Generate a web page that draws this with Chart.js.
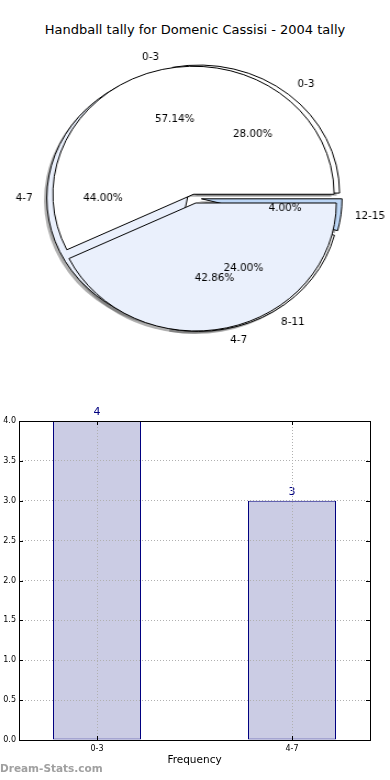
<!DOCTYPE html>
<html>
<head>
<meta charset="utf-8">
<script src="https://cdn.jsdelivr.net/npm/chart.js@4.4.1/dist/chart.umd.min.js"></script>
<style>
html, body { margin: 0; padding: 0; background: #fff; }
#wrap { position: relative; width: 390px; height: 780px; overflow: hidden; font-family: 'DejaVu Sans', sans-serif; }
#title { position: absolute; left: 0; top: 22px; width: 390px; text-align: center; font-size: 13px; line-height: 16px; color: #000; }
#mark { position: absolute; left: 0; top: 762px; font-size: 10.5px; font-weight: bold; color: #a0a0a0; z-index: 5; }
</style>
</head>
<body>
<div id="wrap">
  <div id="title">Handball tally for Domenic Cassisi - 2004 tally</div>
  <canvas id="pieGroups" width="355" height="388" style="position:absolute;left:0;top:0;width:390px;height:388px;z-index:1"></canvas>
  <canvas id="pieTally" width="355" height="388" style="position:absolute;left:0;top:0;width:390px;height:388px;z-index:2"></canvas>
  <canvas id="bars" width="390" height="380" style="position:absolute;left:0;top:400px;width:390px;height:380px;z-index:1"></canvas>
  <div id="mark">Dream-Stats.com</div>
</div>
<script>
// ── Data ──
const tallyLabels = ['0-3', '4-7'];
const tallyValues = [4, 3];
const groupLabels = ['0-3', '4-7', '8-11', '12-15'];
const groupValues = [7, 11, 6, 1];
const barCategories = ['0-3', '4-7'];
const barValues = [4, 3];

// ── Styles ──
const tallyColors = ['#ffffff', '#eaf0fc'];
const tallyExplode = [0.03, 0.04];
const groupColors = ['#ffffff', '#eaf0fc', '#ffffff', '#bcd6f6'];
const groupExplode = [0.05, 0.05, 0.05, 0.05];

Chart.defaults.font.family = "'DejaVu Sans', sans-serif";
Chart.defaults.color = '#000';

const SX = 390 / 355; // pie canvases are stretched sideways, like the oval matplotlib pie
const rev = a => a.slice().reverse(); // matplotlib goes counter-clockwise from east

function arcShift(arc, frac) {
    const mid = (arc.startAngle + arc.endAngle) / 2;
    const d = frac * arc.outerRadius;
    return { mid, dx: Math.cos(mid) * d, dy: Math.sin(mid) * d };
}

function explodedArcs(explode) {
    return {
        id: 'explodedArcs',
        beforeDatasetDraw(chart, args) {
            const ctx = chart.ctx;
            args.meta.data.forEach((arc, i) => {
                const s = arcShift(arc, explode[i]);
                ctx.save();
                ctx.translate(s.dx, s.dy);
                arc.draw(ctx);
                ctx.restore();
            });
            return false;
        }
    };
}

function drawShadows(ctx, chart, explode) {
    chart.getDatasetMeta(0).data.forEach((arc, i) => {
        const s = arcShift(arc, explode[i]);
        const off = 0.02 * arc.outerRadius;
        const x = arc.x + s.dx - off, y = arc.y + s.dy + off;
        ctx.beginPath();
        ctx.moveTo(x, y);
        ctx.arc(x, y, arc.outerRadius, arc.startAngle, arc.endAngle);
        ctx.closePath();
        ctx.fillStyle = 'rgba(77,77,77,0.45)';
        ctx.fill();
    });
}

function drawPieLabels(ctx, chart, labels, values, explode) {
    const total = values.reduce((a, b) => a + b, 0);
    chart.getDatasetMeta(0).data.forEach((arc, i) => {
        const s = arcShift(arc, explode[i]);
        const R = arc.outerRadius;
        const c = Math.cos(s.mid), n = Math.sin(s.mid);
        const cx = arc.x + s.dx, cy = arc.y + s.dy;
        ctx.save();
        ctx.scale(1 / SX, 1);
        ctx.font = "10.4px 'DejaVu Sans'";
        ctx.fillStyle = '#000';
        ctx.textBaseline = 'middle';
        ctx.textAlign = c > 0 ? 'left' : 'right';
        ctx.fillText(labels[i], (cx + 1.1 * R * c) * SX, cy + 1.1 * R * n);
        ctx.textAlign = 'center';
        ctx.fillText((values[i] / total * 100).toFixed(2) + '%', (cx + 0.6 * R * c) * SX, cy + 0.6 * R * n);
        ctx.restore();
    });
}

function pieConfig(labels, values, colors, explode, extra) {
    return {
        type: 'pie',
        data: {
            labels: rev(labels),
            datasets: [{ data: rev(values), backgroundColor: rev(colors), borderColor: '#000', borderWidth: 1, radius: 128 }]
        },
        options: {
            responsive: false, animation: false, devicePixelRatio: 1, events: [],
            rotation: 90,
            layout: { padding: { top: 8, right: 1 } },
            plugins: { legend: { display: false }, tooltip: { enabled: false } }
        },
        plugins: [explodedArcs(rev(explode))].concat(extra)
    };
}

let groupChart = null;

// top pie (2 slices) — also paints every pie label
const tallyChart = new Chart(document.getElementById('pieTally'), pieConfig(tallyLabels, tallyValues, tallyColors, tallyExplode, [{
    id: 'pieText',
    afterDraw(chart) {
        if (groupChart) drawPieLabels(chart.ctx, groupChart, rev(groupLabels), rev(groupValues), rev(groupExplode));
        drawPieLabels(chart.ctx, chart, rev(tallyLabels), rev(tallyValues), rev(tallyExplode));
    }
}]));

// bottom pie (4 slices) — draws the shadows of both pies underneath
groupChart = new Chart(document.getElementById('pieGroups'), pieConfig(groupLabels, groupValues, groupColors, groupExplode, [{
    id: 'pieShadows',
    beforeDatasetsDraw(chart) {
        drawShadows(chart.ctx, tallyChart, rev(tallyExplode));
        drawShadows(chart.ctx, chart, rev(groupExplode));
    }
}]));
tallyChart.draw();

// ── Bar chart ──
const gridOpts = { color: '#b0b0b0', lineWidth: 1, drawTicks: false, offset: false, z: 1 };
const barChart = new Chart(document.getElementById('bars'), {
    type: 'bar',
    data: {
        datasets: [{
            data: barCategories.map((c, i) => ({ x: i, y: barValues[i] })),
            backgroundColor: '#cbcce4', borderColor: '#000080', borderWidth: 1, borderSkipped: false,
            barPercentage: 0.4513, categoryPercentage: 1
        }]
    },
    options: {
        responsive: false, animation: false, devicePixelRatio: 1, events: [],
        layout: { padding: { top: 21, right: 20, left: 0, bottom: 0 } },
        plugins: { legend: { display: false }, tooltip: { enabled: false } },
        scales: {
            x: {
                type: 'linear', min: -0.4, max: 1.4, offset: false,
                afterBuildTicks: s => { s.ticks = barCategories.map((c, i) => ({ value: i })); },
                ticks: { callback: v => barCategories[v], font: { size: 8 }, padding: 4, maxRotation: 0 },
                grid: gridOpts,
                border: { display: false, dash: [1, 2] },
                title: { display: true, text: 'Frequency', font: { size: 10.5 }, padding: { top: 0, bottom: 13 } },
                afterFit: s => { s.height = 40; }
            },
            y: {
                min: 0, max: 4,
                ticks: { stepSize: 0.5, callback: v => v.toFixed(1), font: { size: 8 }, padding: 3 },
                grid: gridOpts,
                border: { display: false, dash: [1, 2] },
                afterFit: s => { s.width = 19; }
            }
        }
    },
    plugins: [{
        id: 'barExtras',
        afterDatasetsDraw(chart) {
            const ctx = chart.ctx;
            ctx.save();
            ctx.font = "11px 'DejaVu Sans'";
            ctx.fillStyle = '#000080';
            ctx.textAlign = 'center';
            ctx.textBaseline = 'bottom';
            chart.getDatasetMeta(0).data.forEach((bar, i) => {
                ctx.fillText(String(barValues[i]), bar.x, bar.y - 3);
            });
            ctx.restore();
        },
        afterDraw(chart) {
            // axes box and matplotlib-style inward ticks
            const ctx = chart.ctx, a = chart.chartArea;
            const { x, y } = chart.scales;
            ctx.save();
            ctx.strokeStyle = '#000';
            ctx.lineWidth = 1;
            ctx.strokeRect(Math.round(a.left) + 0.5, Math.round(a.top) + 0.5, Math.round(a.right - a.left), Math.round(a.bottom - a.top));
            ctx.beginPath();
            y.ticks.forEach(t => {
                const py = Math.round(y.getPixelForValue(t.value)) + 0.5;
                ctx.moveTo(a.left, py); ctx.lineTo(a.left + 4, py);
                ctx.moveTo(a.right, py); ctx.lineTo(a.right - 4, py);
            });
            x.ticks.forEach(t => {
                const px = Math.round(x.getPixelForValue(t.value)) + 0.5;
                ctx.moveTo(px, a.bottom); ctx.lineTo(px, a.bottom - 4);
                ctx.moveTo(px, a.top); ctx.lineTo(px, a.top + 4);
            });
            ctx.stroke();
            ctx.restore();
        }
    }]
});
</script>
</body>
</html>
